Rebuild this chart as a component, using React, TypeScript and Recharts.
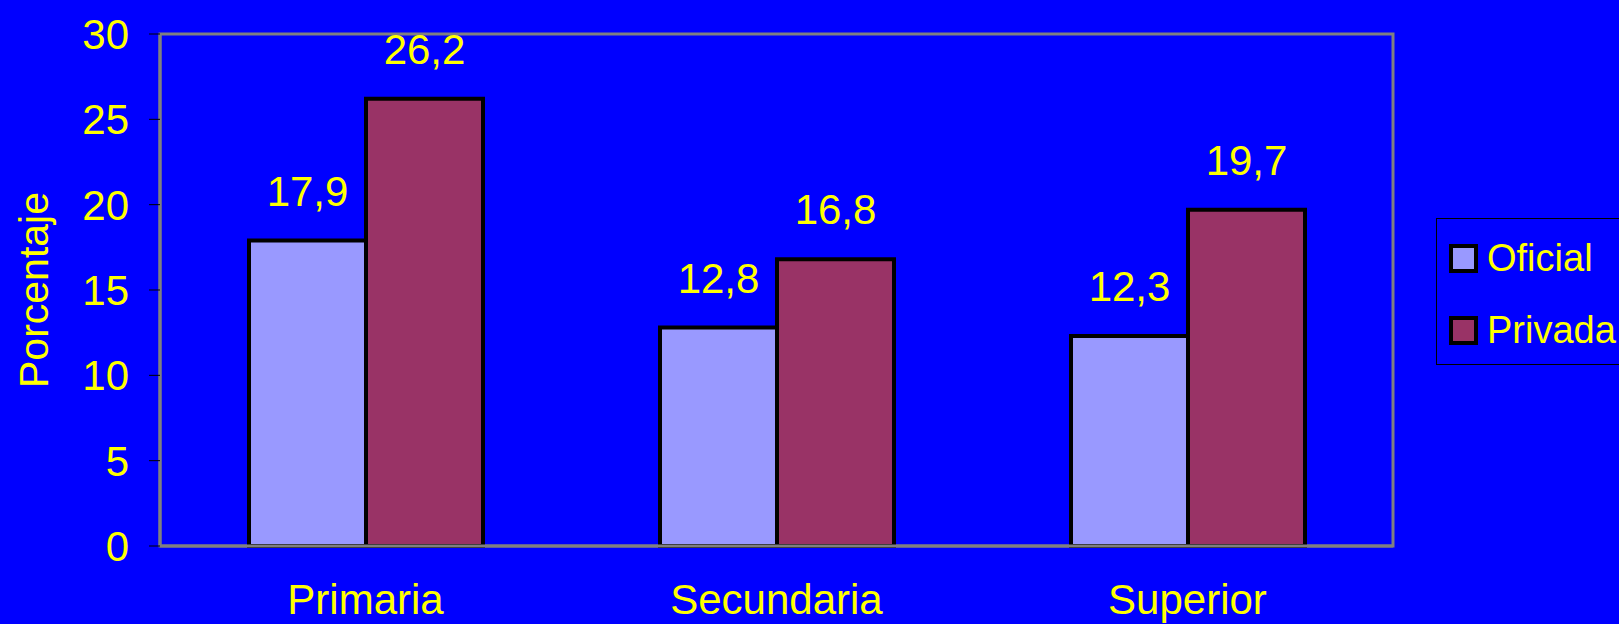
import React from 'react'
import {Bar, BarChart, Label, LabelList, ReferenceArea, XAxis, YAxis} from 'recharts'

const categories = ['Primaria', 'Secundaria', 'Superior']
const oficial = [17.9, 12.8, 12.3]
const privada = [26.2, 16.8, 19.7]
const yTicks = [0, 5, 10, 15, 20, 25, 30]

const data = categories.map((name, i) => ({name, oficial: oficial[i], privada: privada[i], pos: i}))

const font = '"Liberation Sans", Arial, sans-serif'
const yellow = '#FFFF00'

const fmt = (v: any) => String(v).replace('.', ',')

// legend drawn as plain html next to the chart so it doesn't eat plot space
const LegendBox = () => (
    <div style={{position: 'absolute', left: 1436, top: 218, width: 210, height: 147, border: '1px solid #000', boxSizing: 'border-box', fontFamily: font}}>
        {[{name: 'Oficial', color: '#9999FF', top: 25}, {name: 'Privada', color: '#993366', top: 97}].map(it => (
            <div key={it.name}>
                <div style={{position: 'absolute', left: 12, top: it.top, width: 21, height: 21, border: '4px solid #000', background: it.color}} />
                <div style={{position: 'absolute', left: 50, top: it.top - 11, fontSize: 38, color: yellow, lineHeight: '50px', whiteSpace: 'nowrap'}}>{it.name}</div>
            </div>
        ))}
    </div>
)

const App = () => {
    return (
        <div style={{position: 'absolute', left: 0, top: 0, width: 1619, height: 624, background: '#0000FF', overflow: 'hidden'}}>
            <BarChart
                width={1619}
                height={624}
                data={data}
                margin={{top: 34, right: 226, bottom: 0, left: 0}}
                barSize={117}
                barGap={0}
                style={{fontFamily: font}}
            >
                <ReferenceArea y1={0} y2={30} fill="none" stroke="#808080" strokeWidth={3} ifOverflow="visible" />
                <XAxis
                    xAxisId="edges"
                    type="number"
                    dataKey="pos"
                    domain={[0, 3]}
                    ticks={[0, 1, 2, 3]}
                    height={0}
                    tick={false}
                    axisLine={false}
                    tickSize={11}
                    tickLine={{stroke: '#000', strokeWidth: 1}}
                />
                <XAxis
                    dataKey="name"
                    height={78}
                    axisLine={{stroke: '#808080', strokeWidth: 3}}
                    tickLine={false}
                    tickSize={0}
                    tickMargin={38}
                    tick={{fill: yellow, fontSize: 42}}
                />
                <YAxis
                    width={160}
                    domain={[0, 30]}
                    ticks={yTicks}
                    interval={0}
                    axisLine={{stroke: '#808080', strokeWidth: 3}}
                    tickLine={{stroke: '#000', strokeWidth: 1}}
                    tickSize={11}
                    tickMargin={20}
                    tick={{fill: yellow, fontSize: 42}}
                >
                    <Label
                        content={() => (
                            <text x={48} y={290} transform="rotate(-90 48 290)" textAnchor="middle" fill={yellow} fontSize={41}>
                                Porcentaje
                            </text>
                        )}
                    />
                </YAxis>
                <Bar dataKey="oficial" name="Oficial" fill="#9999FF" stroke="#000" strokeWidth={4} isAnimationActive={false}>
                    <LabelList dataKey="oficial" position="top" offset={35} formatter={fmt} fill={yellow} fontSize={42} />
                </Bar>
                <Bar dataKey="privada" name="Privada" fill="#993366" stroke="#000" strokeWidth={4} isAnimationActive={false}>
                    <LabelList dataKey="privada" position="top" offset={35} formatter={fmt} fill={yellow} fontSize={42} />
                </Bar>
            </BarChart>
            <LegendBox />
        </div>
    )
}

export default App
